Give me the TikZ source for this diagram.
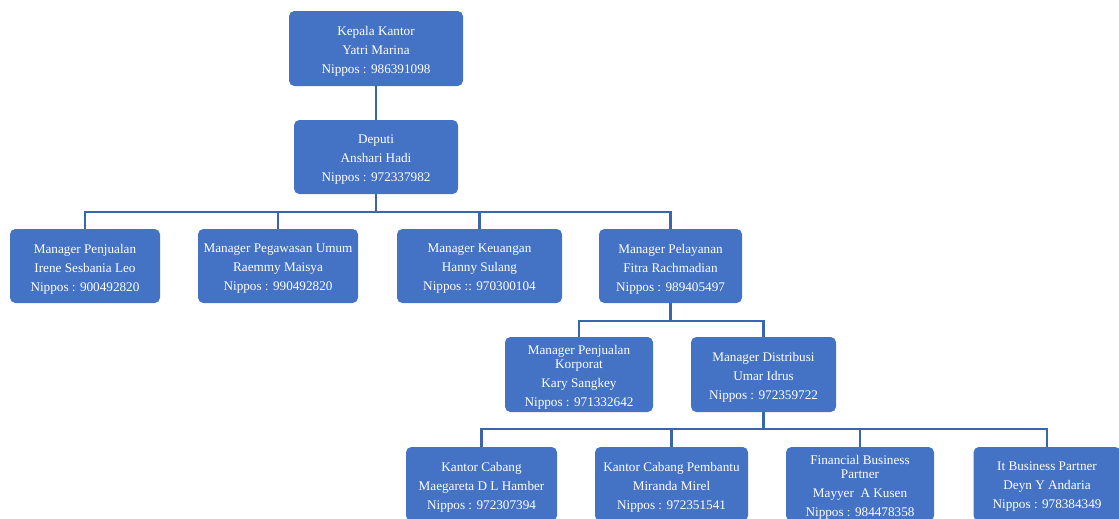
\documentclass[tikz,border=0pt]{standalone}
\usepackage{fontspec}
\setmainfont{Liberation Serif}
\definecolor{boxfill}{HTML}{4472C4}
\definecolor{linecol}{HTML}{3A66B0}
\begin{document}
\begin{tikzpicture}[x=0.75pt,y=-0.75pt,
  box/.style={fill=boxfill, draw=none, rounded corners=4pt, inner sep=0pt, minimum height=55.5pt},
  txt/.style={text=white, align=center, inner sep=0pt, yshift=-2.25pt,
    font=\fontsize{9.9}{14.25}\selectfont},
  conn/.style={draw=linecol, line width=1.9pt}]
\useasboundingbox (0,0) rectangle (1119,518);
\clip (0,0) rectangle (1119,518);
% level 1-2
\node[box, minimum width=130.5pt, minimum height=56.25pt, label={[txt]center:{Kepala Kantor\\Yatri Marina\\Nippos : 986391098}}] (kepala) at (376,48.5) {};
\node[box, minimum width=123pt, label={[txt]center:{Deputi\\Anshari Hadi\\Nippos : 972337982}}] (deputi) at (376,157) {};
% level 3
\node[box, minimum width=112.5pt, label={[txt]center:{Manager Penjualan\\Irene Sesbania Leo\\Nippos : 900492820}}] (pj) at (85,266) {};
\node[box, minimum width=120pt, label={[txt]center:{Manager Pegawasan Umum\\Raemmy Maisya\\Nippos : 990492820}}] (pg) at (278,266) {};
\node[box, minimum width=123.75pt, label={[txt]center:{Manager Keuangan\\Hanny Sulang\\Nippos :: 970300104}}] (ku) at (479.5,266) {};
\node[box, minimum width=107.25pt, label={[txt]center:{Manager Pelayanan\\Fitra Rachmadian\\Nippos : 989405497}}] (pl) at (670.5,266) {};
% level 4
\node[box, minimum width=111pt, minimum height=56.25pt, label={[txt]center:{Manager Penjualan\\[-3.75pt]Korporat\\Kary Sangkey\\Nippos : 971332642}}] (kp) at (579,374.5) {};
\node[box, minimum width=108.75pt, minimum height=56.25pt, label={[txt]center:{Manager Distribusi\\Umar Idrus\\Nippos : 972359722}}] (ds) at (763.5,374.5) {};
% level 5
\node[box, minimum width=113.25pt, label={[txt]center:{Kantor Cabang\\Maegareta D L Hamber\\Nippos : 972307394}}] (kc) at (481.5,484) {};
\node[box, minimum width=114.75pt, label={[txt]center:{Kantor Cabang Pembantu\\Miranda Mirel\\Nippos : 972351541}}] (kcp) at (671.5,484) {};
\node[box, minimum width=111pt, label={[txt]center:{Financial Business\\[-3.75pt]Partner\\Mayyer\ \ A Kusen\\Nippos : 984478358}}] (fb) at (860,484) {};
\node[box, minimum width=110.25pt, label={[txt]center:{It Business Partner\\Deyn Y Andaria\\Nippos : 978384349}}] (it) at (1047,484) {};
% connectors
\coordinate (b1) at (376,212);
\coordinate (b2) at (670.5,321);
\coordinate (b3) at (763.5,429);
\draw[conn] (kepala.south) -- (deputi.north);
\draw[conn] (deputi.south) -- (b1);
\draw[conn] (pj.north) |- (b1) -| (pl.north);
\draw[conn] (pg.north) -- (pg.north |- b1);
\draw[conn] (ku.north) -- (ku.north |- b1);
\draw[conn] (pl.south) -- (b2);
\draw[conn] (kp.north) |- (b2) -| (ds.north);
\draw[conn] (ds.south) -- (b3);
\draw[conn] (kc.north) |- (b3) -| (it.north);
\draw[conn] (kcp.north) -- (kcp.north |- b3);
\draw[conn] (fb.north) -- (fb.north |- b3);
\end{tikzpicture}
\end{document}
